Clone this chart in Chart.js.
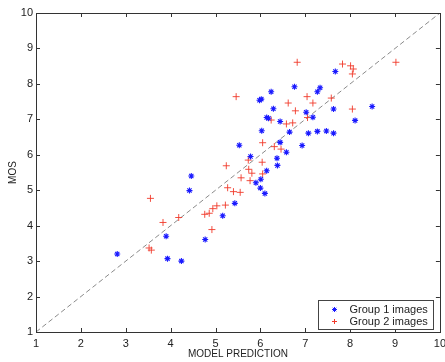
<!DOCTYPE html>
<html>
<head>
<meta charset="utf-8">
<script src="https://cdn.jsdelivr.net/npm/chart.js@4.4.1/dist/chart.umd.min.js"></script>
<style>
  html, body { margin: 0; padding: 0; background: #fff; }
  #wrap { width: 445px; height: 362px; }
</style>
</head>
<body>
<div id="wrap"><canvas id="chart" width="445" height="362"></canvas></div>
<script>
// values
const group1X = [6.24, 6.76, 5.98, 6.02, 7.27, 7.33, 6.29, 7.02, 6.14, 6.18, 6.44, 7.17, 6.03, 6.65, 7.07,
  7.27, 7.47, 7.63, 7.67, 7.63, 8.49, 8.11, 5.53, 6.44, 6.58, 6.93, 5.78, 6.37, 6.38, 6.14,
  6.01, 5.90, 6.00, 6.10, 5.43, 4.46, 4.42, 5.16, 3.90, 4.77, 2.81, 3.93, 4.24];
const group1Y = [7.78, 7.92, 7.54, 7.57, 7.78, 7.89, 7.30, 7.20, 7.05, 7.03, 6.94, 7.06, 6.68, 6.64, 6.61,
  6.66, 6.67, 6.61, 8.35, 7.29, 7.36, 6.97, 6.27, 6.35, 6.07, 6.26, 5.95, 5.90, 5.70, 5.55,
  5.31, 5.21, 5.06, 4.91, 4.63, 5.40, 4.99, 4.28, 3.70, 3.61, 3.20, 3.07, 3.00];

const group2X = [6.82, 5.46, 6.62, 7.04, 7.17, 6.78, 6.24, 6.58, 6.72, 7.05, 7.83, 8.01, 8.07, 8.05, 9.02,
  7.58, 8.05, 6.05, 6.31, 6.46, 5.73, 5.24, 6.04, 5.74, 5.81, 6.05, 5.57, 5.77, 5.27, 5.40,
  5.55, 5.22, 5.03, 4.94, 4.76, 4.86, 4.18, 3.83, 4.92, 3.55, 3.52, 3.57];
const group2Y = [8.61, 7.64, 7.46, 7.64, 7.46, 7.24, 6.98, 6.87, 6.90, 7.05, 8.56, 8.51, 8.42, 8.28, 8.61,
  7.60, 7.29, 6.34, 6.23, 6.16, 5.85, 5.69, 5.79, 5.59, 5.48, 5.46, 5.35, 5.27, 5.07, 4.96,
  4.94, 4.58, 4.56, 4.48, 4.32, 4.35, 4.23, 4.09, 3.89, 4.77, 3.37, 3.31];

const diagX = [1, 10];
const diagY = [1, 10];

const xTicks = [1, 2, 3, 4, 5, 6, 7, 8, 9, 10];
const yTicks = [1, 2, 3, 4, 5, 6, 7, 8, 9, 10];

const seriesNames = ['Group 1 images', 'Group 2 images'];

const toPoints = (xs, ys) => xs.map((x, i) => ({ x, y: ys[i] }));
const FONT = 'Liberation Sans, Arial, sans-serif';

// matlab-style box with inward ticks, and the legend box in the lower right
const framePlugin = {
  id: 'frame',
  afterDatasetsDraw(chart) {
    const { ctx, chartArea: a, scales: { x, y } } = chart;
    ctx.save();
    ctx.strokeStyle = '#333';
    ctx.lineWidth = 1;
    ctx.beginPath();
    xTicks.forEach(v => {
      const px = Math.round(x.getPixelForValue(v)) + 0.5;
      ctx.moveTo(px, a.bottom); ctx.lineTo(px, a.bottom - 4);
      ctx.moveTo(px, a.top); ctx.lineTo(px, a.top + 4);
    });
    yTicks.forEach(v => {
      const py = Math.round(y.getPixelForValue(v)) + 0.5;
      ctx.moveTo(a.left, py); ctx.lineTo(a.left + 4, py);
      ctx.moveTo(a.right, py); ctx.lineTo(a.right - 4, py);
    });
    ctx.stroke();
    ctx.strokeRect(Math.round(a.left) + 0.5, Math.round(a.top) + 0.5,
      Math.round(a.right - a.left), Math.round(a.bottom - a.top));

    // legend
    const bw = 115, bh = 29;
    const bx = Math.round(a.right - 122) + 0.5, by = Math.round(a.bottom - 32) + 0.5;
    ctx.fillStyle = '#fff';
    ctx.fillRect(bx, by, bw, bh);
    ctx.strokeStyle = '#444';
    ctx.strokeRect(bx, by, bw, bh);
    ctx.font = '11px ' + FONT;
    ctx.textBaseline = 'middle';
    ctx.textAlign = 'left';
    chart.data.datasets.slice(0, 2).forEach((ds, i) => {
      const ry = by + 9 + i * 12;
      ctx.strokeStyle = ds.borderColor;
      ctx.fillStyle = ds.borderColor;
      ctx.lineWidth = 1;
      Chart.helpers.drawPoint(ctx, {
        pointStyle: ds.pointStyle, radius: 2.5, borderWidth: 1
      }, bx + 16, ry);
      ctx.fillStyle = '#222';
      ctx.fillText(ds.label, bx + 31, ry);
    });
    ctx.restore();
  }
};

new Chart(document.getElementById('chart'), {
  type: 'scatter',
  data: {
    datasets: [
      {
        label: seriesNames[0],
        data: toPoints(group1X, group1Y),
        pointStyle: 'star',
        pointRadius: 3,
        borderColor: '#1a1aff',
        backgroundColor: '#1a1aff',
        borderWidth: 1.1
      },
      {
        label: seriesNames[1],
        data: toPoints(group2X, group2Y),
        pointStyle: 'cross',
        pointRadius: 3.5,
        borderColor: '#f03a2a',
        backgroundColor: '#f03a2a',
        borderWidth: 0.9
      },
      {
        type: 'line',
        label: 'diagonal',
        data: toPoints(diagX, diagY),
        borderColor: '#8a8a8a',
        borderWidth: 1,
        borderDash: [5, 3],
        pointRadius: 0,
        fill: false
      }
    ]
  },
  options: {
    responsive: false,
    animation: false,
    devicePixelRatio: 1,
    layout: { padding: { left: 0, right: 4, top: 13, bottom: 0 } },
    plugins: {
      legend: { display: false },
      tooltip: { enabled: false }
    },
    scales: {
      x: {
        type: 'linear',
        min: 1, max: 10,
        afterBuildTicks: s => { s.ticks = xTicks.map(v => ({ value: v })); },
        afterFit: s => { s.height = 30; s.paddingLeft = 0; s.paddingRight = 0; },
        grid: { display: false, drawTicks: false },
        border: { display: false },
        ticks: { padding: 5, color: '#222', font: { family: FONT, size: 11 }, maxRotation: 0 },
        title: {
          display: true, text: 'MODEL PREDICTION', color: '#222',
          font: { family: FONT, size: 10 }, padding: { top: 0, bottom: 2 }
        }
      },
      y: {
        type: 'linear',
        min: 1, max: 10,
        afterBuildTicks: s => { s.ticks = yTicks.map(v => ({ value: v })); },
        afterFit: s => { s.width = 36; s.paddingTop = 0; s.paddingBottom = 0; },
        grid: { display: false, drawTicks: false },
        border: { display: false },
        ticks: { padding: 3, color: '#222', font: { family: FONT, size: 11 } },
        title: {
          display: true, text: 'MOS', color: '#222',
          font: { family: FONT, size: 10 }, padding: { top: 7, bottom: 0 }
        }
      }
    }
  },
  plugins: [framePlugin]
});
</script>
</body>
</html>
